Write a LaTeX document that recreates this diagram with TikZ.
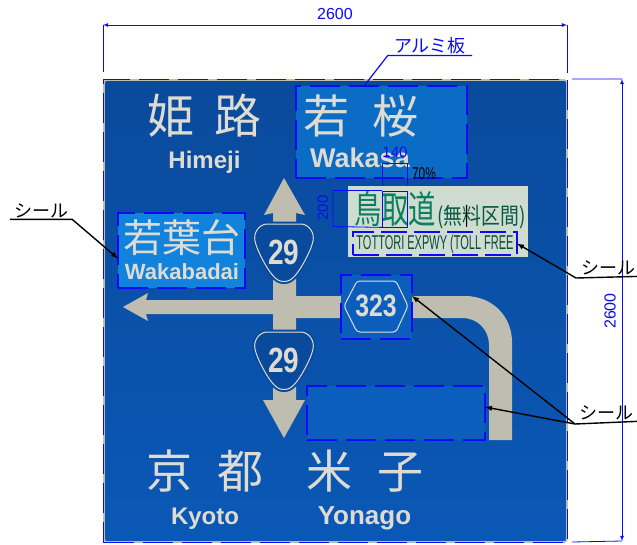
\documentclass[tikz,border=0pt]{standalone}
\usepackage{fontspec}
\setmainfont{Liberation Sans}
\newfontfamily\cjk{Noto Sans CJK JP}
\newfontfamily\cjkn[FakeStretch=0.72]{Noto Sans CJK JP}
\newfontfamily\cjkm[FakeStretch=0.82]{Noto Sans CJK JP}
\newfontfamily\narrow[FakeStretch=0.7]{Liberation Sans}
\newfontfamily\slim[FakeStretch=0.55]{Liberation Sans}
\newfontfamily\roadno[FakeStretch=0.8]{Liberation Sans}
\usetikzlibrary{arrows,positioning,calc}
\definecolor{dimblue}{HTML}{0A0AF5}
\definecolor{boardtop}{HTML}{0A4A9C}
\definecolor{boardbot}{HTML}{0A58B6}
\definecolor{sealblue}{HTML}{0A6CC4}
\definecolor{sealpale}{HTML}{1283DC}
\definecolor{sealdark}{HTML}{0B5EBC}
\definecolor{roadgray}{HTML}{BEBDB0}
\definecolor{signwhite}{HTML}{DEDCD2}
\definecolor{signgreen}{HTML}{0B7F62}
\definecolor{plategreen}{HTML}{CFDCD0}
\newcommand{\fsz}[1]{\fontsize{#1}{#1}\selectfont}
\newcommand{\rshield}[3]{
\draw[shield, shift={(#2)}] (-17,-28) -- (17,-28)
  .. controls (24,-28) and (31,-20) .. (29,-11)
  .. controls (27,-1) and (14,24) .. (6,28)
  .. controls (3,30) and (-3,30) .. (-6,28)
  .. controls (-14,24) and (-27,-1) .. (-29,-11)
  .. controls (-31,-20) and (-24,-28) .. (-17,-28) -- cycle;
\node[routeno] (#1) at (#2) {#3};
}
\tikzset{
    seal/.style={ %pasted-over boxes
        rectangle,
        draw=dimblue,
        line width=1.5pt,
        dash pattern=on 30pt off 9pt,
        inner sep=0pt,
        outer sep=0pt
        },
    shield/.style={
        draw=signwhite,
        fill=boardtop,
        line width=1pt,
        preaction={draw=boardtop, line width=5pt}
        },
    routeno/.style={
        font=\roadno\bfseries\fsz{35},
        text=signwhite
        },
    jp/.style={
        font=\cjk\fsz{46},
        text=signwhite,
        inner sep=0pt
        },
    en/.style={
        font=\bfseries\fsz{24},
        text=signwhite,
        inner sep=0pt
        },
    road/.style={
        fill=roadgray,
        draw=none
        },
    dimline/.style={
        draw=dimblue,
        line width=0.8pt
        },
    dimtext/.style={
        text=dimblue,
        font=\fsz{16},
        inner sep=0pt
        },
    callout/.style={
        font=\cjk\fsz{18},
        minimum width=62pt,
        inner sep=1pt
        },
    arrout/.style={
        -latex,
        line width=1.4pt
        }
}
\begin{document}
\begin{tikzpicture}[x=1pt,y=-1pt]
\useasboundingbox (0,0) rectangle (637,544);

%%%%% board
\path[top color=boardtop, bottom color=boardbot, draw=roadgray, line width=1.6pt, rounded corners=3pt]
  (104,80) rectangle (567,542);
\node[seal, minimum width=464pt, minimum height=463pt, anchor=north west] (board) at (103.5,79.5) {};

%%%%% arrows
\path[road] (284,178) -- (305,215) -- (296,213) -- (296,400) -- (305,400) -- (284,438)
  -- (263,400) -- (273,400) -- (273,314) -- (146,314) -- (148,321) -- (123,307)
  -- (148,293) -- (146,300) -- (273,300) -- (273,213) -- (264,215) -- cycle;
\path[road] (290,296) -- (465,296) .. controls (492,296) and (512,316) .. (512,342)
  -- (512,440) -- (489,440) -- (489,345) .. controls (489,330) and (478,318) .. (462,318)
  -- (290,318) -- cycle;

%%%%% route shields
\rshield{r29a}{284,252}{29}
\rshield{r29b}{284,360}{29}

%%%%% sign names
\node[jp, font=\cjk\fsz{47}] (himejijp) at (204.5,116) {姫\hspace{20pt}路};
\node[en, below=13pt of himejijp] (himeji) {Himeji};
\node[jp] (kyotojp) at (205,471) {京\hspace{25pt}都};
\node[en, below=15pt of kyotojp] (kyoto) {Kyoto};
\node[jp] (yonagojp) at (365,471) {米\hspace{25pt}子};
\node[en, font=\bfseries\fsz{26}] (yonago) at (364.5,518) {Yonago};

%%%%% seal n1 wakasa
\node[seal, fill=sealblue, minimum width=171pt, minimum height=92pt, anchor=north west] (wakasabox) at (296,86) {};
\node[jp] (wakasajp) at (361,116) {若\hspace{24pt}桜};
\node[en, font=\bfseries\fsz{27}] (wakasa) at (360,158) {Wakasa};

%%%%% seal n2 wakabadai
\node[seal, fill=sealpale, minimum width=127pt, minimum height=75pt, anchor=north west] (wakabadaibox) at (118,213) {};
\node[jp, font=\cjk\fsz{39}] (wakabadaijp) at (182,238) {若葉台};
\node[en, font=\bfseries\fsz{22}] (wakabadai) at (182,272) {Wakabadai};

%%%%% seal n3 route 323
\node[seal, fill=sealdark, minimum width=71pt, minimum height=64pt, anchor=north west] (r323box) at (341,275) {};
\draw[signwhite, line width=1pt, rounded corners=3pt] (344,306) -- (357,281) -- (396,281)
  -- (408,306) -- (396,332) -- (357,332) -- cycle;
\node[routeno, font=\roadno\bfseries\fsz{31}] (r323) at (376,306) {323};

%%%%% seal n4 blank
\node[seal, fill=sealdark, minimum width=178pt, minimum height=54pt, anchor=north west] (blankbox) at (307,386) {};

%%%%% expressway plate
\node[fill=plategreen, minimum width=180pt, minimum height=71pt, anchor=north west, inner sep=0pt] (plate) at (348,186) {};
\node[font=\cjkn\fsz{38}, text=signgreen, anchor=west, inner sep=0pt] (tottori) at (354,209) {鳥取道};
\node[font=\cjkm\fsz{23}, text=signgreen!70!black, anchor=west, inner sep=0pt] (toll) at (437,217) {(無料区間)};
\node[font=\slim\fsz{20}, text=signgreen!60!black, inner sep=0pt] (tollen) at (435,244) {TOTTORI EXPWY (TOLL FREE};
\node[seal, minimum width=164pt, minimum height=23pt, anchor=north west, dash pattern=on 26pt off 7pt] (tollbox) at (353,232) {};

%%%%% size notes on the plate
\node[draw=dimblue, line width=0.9pt, minimum width=25pt, minimum height=36pt, anchor=north west, inner sep=0pt] (chara) at (382,190.5) {};
\draw[dimline] (chara.north west) ++(0,-5) -- (382,163) -- (407,163) -- ++(0,22);
\draw[dimline] (chara.north west) -- (333,190.5) -- (333,226.5) -- (chara.south west);
\node[dimtext, font=\fsz{15}] (d140) at (395,152) {140};
\node[dimtext, font=\fsz{15}, rotate=90] (d200) at (323,208) {200};
\node[font=\narrow\fsz{17}, inner sep=0pt] (d70) at (424,174) {70\%};
\draw[black, line width=0.5pt] (466,205) -- (466,227);

%%%%% overall dimensions
\coordinate (tl) at (103,25);
\coordinate (tr) at (567,25);
\draw[dimline, <->, >=latex] (tl) -- (tr);
\draw[dimline] (tl) -- (103,72) (tr) -- (567,73);
\node[dimtext] (dw) at (335,14) {2600};
\coordinate (rt) at (622,79);
\coordinate (rb) at (622,541);
\draw[dimline, <->, >=latex] (rt) -- (rb);
\draw[dimline] (572,79) -- (rt) (572,542) -- (rb);
\node[dimtext, rotate=90] (dh) at (610,311) {2600};

%%%%% aluminium label
\node[callout, text=dimblue, minimum width=84pt] (alu) at (430,46) {アルミ板};
\draw[dimline, line width=1.2pt] (alu.south east) -- (alu.south west) -- (wakasabox.north -| 364,0);

%%%%% seal labels
\node[callout] (labl) at (41,211) {シール};
\draw[arrout] (labl.south west) -- (labl.south east) -- ([yshift=-8pt]wakabadaibox.west);
\node[callout] (labr) at (608,268) {シール};
\draw[arrout] (labr.south east) -- (576,278) -- (tollbox.east);
\node[callout] (labb) at (606,413) {シール};
\draw[arrout] (labb.south east) -- (575,424) -- ([yshift=11pt]r323box.east);
\draw[arrout] (575,424) -- ([yshift=6pt]blankbox.east);

\end{tikzpicture}
\end{document}
